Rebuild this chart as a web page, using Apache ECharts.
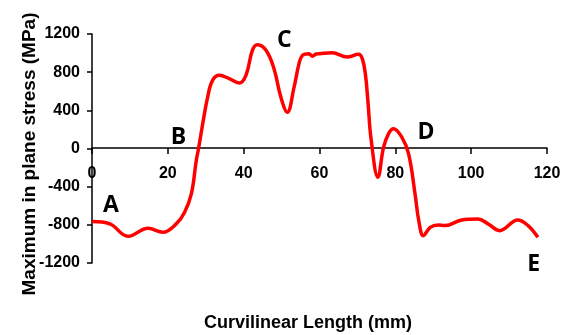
<!DOCTYPE html>
<html>
<head>
<meta charset="utf-8">
<script src="https://cdn.jsdelivr.net/npm/echarts@6/dist/echarts.min.js"></script>
<style>html,body{margin:0;padding:0;background:#fff}#c{width:570px;height:335px}</style>
</head>
<body>
<div id="c"></div>
<script>
// Curvilinear length (mm)
const lengthMM = [0, 4.7, 9.5, 14.8, 18.7, 22.2, 24.4, 26.2, 27.5, 28.1, 29.2, 30.5, 31.8, 33.6, 36.2, 38.8, 40.6, 42.3, 43.6, 45.9, 48, 49.8, 51.5, 53.3, 54.6, 55.5, 57.2, 58.1, 59.1, 60, 63.3, 67.3, 70.3, 71.3, 72.1, 72.8, 73.6, 75.4, 76.9, 78.2, 79.5, 81.7, 83.5, 85.2, 86.2, 87.4, 89.2, 91.3, 93.1, 97.5, 101.8, 104.5, 107.5, 112.3, 115, 117.6];
// Maximum in plane stress (MPa)
const stressMPa = [-766, -790, -920, -836, -878, -790, -670, -476, -126, 0, 259, 539, 714, 767, 732, 686, 767, 1029, 1088, 1029, 836, 539, 381, 644, 889, 976, 994, 968, 990, 994, 1004, 958, 987, 940, 780, 480, 100, -301, 14, 154, 207, 119, -56, -476, -760, -914, -826, -801, -808, -749, -738, -791, -861, -749, -808, -931];
// Point annotations (label, x mm, y MPa)
const pointNames = ['A', 'B', 'C', 'D', 'E'];
const pointX = [5, 22.8, 50.7, 88.1, 116.5];
const pointY = [-600, 119, 1134, 171, -1218];
const xTicks = {min: 0, max: 120, interval: 20};
const yTicks = {min: -1200, max: 1200, interval: 400};
const xTitle = 'Curvilinear Length (mm)';
const yTitle = 'Maximum in plane stress (MPa)';

const chart = echarts.init(document.getElementById('c'));
const txt = {color: '#000', fontFamily: 'Liberation Sans, Arial, sans-serif', fontWeight: 'bold', fontSize: 16};
chart.setOption({
  animation: false,
  grid: {left: 92, right: 23, top: 34, bottom: 72},
  xAxis: {
    type: 'value', min: xTicks.min, max: xTicks.max, interval: xTicks.interval,
    position: 'bottom', offset: -115,
    axisLine: {onZero: false, lineStyle: {color: '#000', width: 1.5}},
    axisTick: {show: true, inside: false, length: 6, lineStyle: {color: '#000', width: 1.5}},
    axisLabel: Object.assign({margin: 18}, txt),
    splitLine: {show: false}
  },
  yAxis: {
    type: 'value', min: yTicks.min, max: yTicks.max, interval: yTicks.interval,
    axisLine: {show: true, lineStyle: {color: '#000', width: 1.5}},
    axisTick: {show: true, length: 5, lineStyle: {color: '#000', width: 1.5}},
    axisLabel: Object.assign({margin: 12, formatter: v => String(v)}, txt),
    splitLine: {show: false}
  },
  series: [{
    type: 'line',
    data: lengthMM.map((x, i) => [x, stressMPa[i]]),
    showSymbol: false, smooth: 0.4,
    lineStyle: {color: '#ff0000', width: 3.5}
  }]
});
const graphics = [{
  type: 'text', x: 204, y: 323,
  style: {text: xTitle, fill: '#000', font: 'bold 18px "Liberation Sans", Arial, sans-serif', align: 'left', verticalAlign: 'middle'}
}, {
  type: 'text', x: 30, y: 154, rotation: Math.PI / 2,
  style: {text: yTitle, fill: '#000', font: 'bold 19px "Liberation Sans", Arial, sans-serif', align: 'center', verticalAlign: 'middle'}
}];
pointNames.forEach((n, i) => {
  const p = chart.convertToPixel({gridIndex: 0}, [pointX[i], pointY[i]]);
  graphics.push({
    type: 'text', x: p[0], y: p[1],
    style: {text: n, fill: '#000', font: 'bold 23px "Open Sans", sans-serif', align: 'center', verticalAlign: 'middle'}
  });
});
chart.setOption({graphic: graphics});
</script>
</body>
</html>
